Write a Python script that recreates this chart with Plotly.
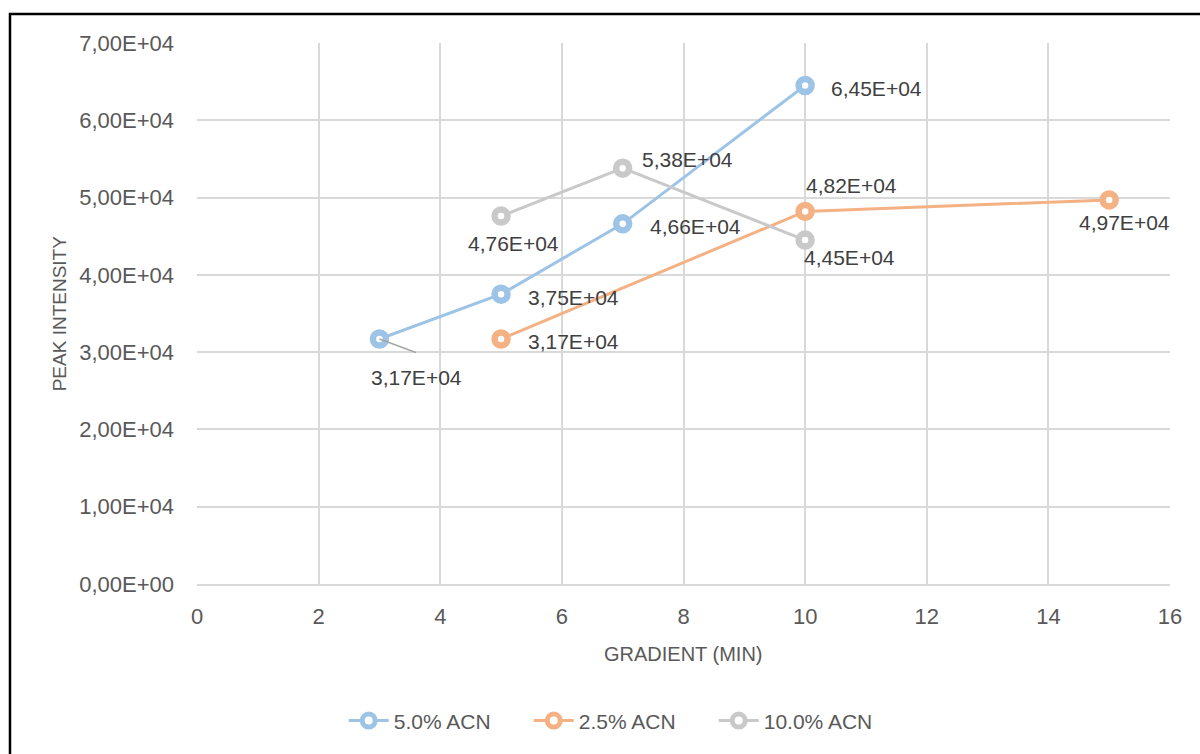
import plotly.graph_objects as go

# Peak intensity against gradient length for three ACN levels
series_names = ["5.0% ACN", "2.5% ACN", "10.0% ACN"]
gradient_5 = [3, 5, 7, 10]
intensity_5 = [31700, 37500, 46600, 64500]
gradient_25 = [5, 10, 15]
intensity_25 = [31700, 48200, 49700]
gradient_10 = [5, 7, 10]
intensity_10 = [47600, 53800, 44500]

x_ticks = [0, 2, 4, 6, 8, 10, 12, 14, 16]
y_ticks = [0, 10000, 20000, 30000, 40000, 50000, 60000, 70000]

colors = ["#9DC3E6", "#F4B183", "#C9C9C9"]
FONT = "Liberation Sans"
TEXT = "#404040"
AXIS_TEXT = "#595959"
GRID = "#D9D9D9"
LABEL_SIZE = 21
TICK_SIZE = 22


def sci(v):
    return f"{v:.2E}".replace(".", ",")


fig = go.Figure()
for name, xs, ys, c in zip(
    series_names,
    [gradient_5, gradient_25, gradient_10],
    [intensity_5, intensity_25, intensity_10],
    colors,
):
    fig.add_trace(go.Scatter(
        x=xs, y=ys, name=name, mode="lines+markers",
        line=dict(color=c, width=3),
        marker=dict(size=13, color="white", line=dict(color=c, width=6.5)),
    ))

# data label placement per point: (xshift, yshift, xanchor)
label_pos = {
    0: [(None, None, None), (25, -3, "left"), (25, -3, "left"), (24, -3, "left")],
    1: [(25, -2, "left"), (-1, 26, "left"), (15, -23, "center")],
    2: [(12, -27, "center"), (17, 9, "left"), (44, -17, "center")],
}
all_x = [gradient_5, gradient_25, gradient_10]
all_y = [intensity_5, intensity_25, intensity_10]
for si in range(3):
    for pi, (xv, yv) in enumerate(zip(all_x[si], all_y[si])):
        xs, ys, xa = label_pos[si][pi]
        if xs is None:
            continue
        fig.add_annotation(
            x=xv, y=yv, text=sci(yv), showarrow=False,
            xanchor=xa, yanchor="middle", xshift=xs, yshift=ys,
            font=dict(family=FONT, size=LABEL_SIZE, color=TEXT),
        )

# first 5.0% point: label pulled away with a leader line
fig.add_annotation(
    x=gradient_5[0], y=intensity_5[0], text="", showarrow=True,
    ax=38, ay=14, arrowhead=0, arrowwidth=1.5, arrowcolor="#A6A6A6",
    standoff=0,
)
fig.add_annotation(
    x=gradient_5[0], y=intensity_5[0], text=sci(intensity_5[0]),
    showarrow=False, xanchor="center", yanchor="middle",
    xshift=37, yshift=-38,
    font=dict(family=FONT, size=LABEL_SIZE, color=TEXT),
)

# axis titles
fig.add_annotation(
    xref="paper", yref="paper", x=0.5, y=-0.13, text="GRADIENT (MIN)",
    showarrow=False, xanchor="center", yanchor="middle",
    font=dict(family=FONT, size=20, color=AXIS_TEXT),
)
fig.add_annotation(
    xref="paper", yref="paper", x=-0.141, y=0.5, text="PEAK INTENSITY",
    showarrow=False, textangle=-90, xanchor="center", yanchor="middle",
    font=dict(family=FONT, size=19, color=AXIS_TEXT),
)

# outer chart frame
fig.add_shape(
    type="rect", xref="paper", yref="paper",
    x0=-0.1922, x1=1.04, y0=-0.33, y1=1.0536,
    line=dict(color="black", width=2.5), layer="below",
)

fig.update_layout(
    width=1200, height=754,
    margin=dict(l=197, r=30, t=43, b=170),
    paper_bgcolor="white", plot_bgcolor="white",
    font=dict(family=FONT, size=LABEL_SIZE, color=AXIS_TEXT),
    showlegend=True,
    legend=dict(
        orientation="h", x=0.436, xanchor="center", y=-0.253, yanchor="middle",
        font=dict(family=FONT, size=LABEL_SIZE, color=AXIS_TEXT),
        itemwidth=40, entrywidth=130, entrywidthmode="pixels",
    ),
    xaxis=dict(
        range=[0, 16], tickvals=x_ticks, ticktext=[str(v) for v in x_ticks],
        showgrid=True, gridcolor=GRID, gridwidth=1.5, zeroline=False,
        showline=True, linecolor=GRID, linewidth=1.5,
        ticks="", ticklabelstandoff=12,
        tickfont=dict(family=FONT, size=TICK_SIZE, color=AXIS_TEXT),
    ),
    yaxis=dict(
        range=[0, 70000], tickvals=y_ticks, ticktext=[sci(v) for v in y_ticks],
        showgrid=True, gridcolor=GRID, gridwidth=1.5, zeroline=False,
        showline=False, ticks="", ticklabelstandoff=22,
        tickfont=dict(family=FONT, size=TICK_SIZE, color=AXIS_TEXT),
    ),
)

fig.write_html("out.html")
